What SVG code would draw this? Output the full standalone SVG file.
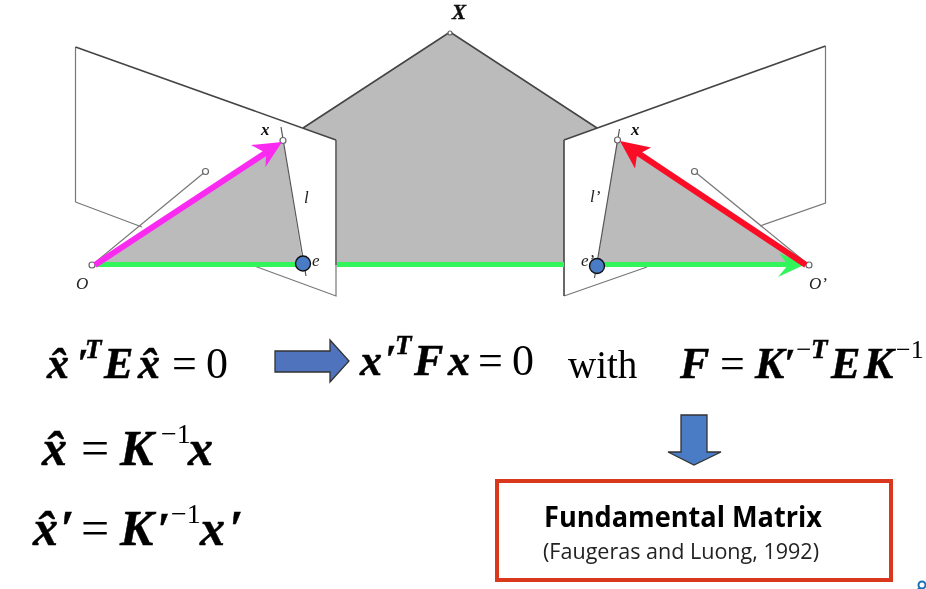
<svg xmlns="http://www.w3.org/2000/svg" width="926" height="589" viewBox="0 0 926 589">
<defs>
<style>
.math{font-family:"Liberation Serif","Times New Roman",serif;font-weight:bold;font-style:italic;font-size:44px;fill:#000;stroke:#000;stroke-width:.5}
.big{font-size:50px}
.up{font-family:"Liberation Serif","Times New Roman",serif;font-size:44px;fill:#000}
.ub{font-size:50px}
.sup{font-size:27px}
.lab{font-family:"Liberation Serif",serif;font-style:italic;font-size:17px;fill:#222}
.bl{font-family:"Liberation Serif",serif;font-style:italic;font-weight:bold;fill:#111}
.plane{fill:#fff;stroke:none}
.thin{fill:none;stroke:#777;stroke-width:1.2}
.dark{fill:none;stroke:#444;stroke-width:1.6}
.gray{fill:#bbb;stroke:none}
.pt{fill:#fff;stroke:#666;stroke-width:1.2}
.ep{fill:#4a7cc4;stroke:#111;stroke-width:1.4}
.blk{fill:#4f73bd;stroke:#333;stroke-width:1.3}
</style>
<filter id="soft" x="0" y="0" width="100%" height="100%"><feGaussianBlur stdDeviation="0.45"/></filter>
</defs>
<rect width="926" height="589" fill="#fff"/>
<g filter="url(#soft)">
<g id="epipolar-plane">
<polygon class="gray" points="303,128 450,32 597,128 564,140 564,265 336,265 336,140"/>
<polyline class="dark" points="303,128 450,32 597,128"/>
<circle class="pt" cx="450" cy="33" r="2"/>
</g>
<g id="left-image-plane">
<polygon class="plane" points="75.5,47 336,140 336,296 75.5,202"/>
<polygon class="gray" points="92,265 283,140 303,264"/>
<path class="thin" d="M75.5,202V47M75.5,202L142,227M253,265.5L336,296V140"/>
<path class="dark" d="M75.5,47L336,140" />
<line x1="336" y1="140" x2="336" y2="265" stroke="#666" stroke-width="1.5"/>
<line class="thin" x1="92" y1="265" x2="205.500" y2="171.500"/>
<line x1="281" y1="127" x2="306" y2="276" stroke="#555" stroke-width="1.2"/>
<circle class="pt" cx="205.500" cy="171.500" r="3"/>
<circle class="pt" cx="283" cy="140.500" r="3"/>
<circle class="pt" cx="92" cy="265" r="3"/>
</g>
<g id="right-image-plane">
<polygon class="plane" points="564,140 825.500,46 825.500,203 564,296"/>
<polygon class="gray" points="617,140 597,265 808,265"/>
<path class="thin" d="M825.500,46V203L760,226M647,267L564,296"/>
<path class="dark" d="M564,140L825.500,46M564,140V296"/>
<line class="thin" x1="809" y1="265" x2="694.500" y2="171.500"/>
<line x1="619.500" y1="129" x2="594.500" y2="278" stroke="#555" stroke-width="1.2"/>
<circle class="pt" cx="694.500" cy="171.500" r="3"/>
<circle class="pt" cx="617.500" cy="140" r="3"/>
<circle class="pt" cx="809" cy="265" r="3"/>
</g>
<g id="connectors">
<g fill="#33f55c">
<rect x="95" y="262" width="208" height="5"/>
<rect x="337" y="262" width="227" height="5"/>
<rect x="597" y="262" width="195" height="5"/>
<polygon points="805,264.500 779,253 788,265 778,277"/>
</g>
<g fill="#fb2cf0">
<line x1="95" y1="265" x2="270" y2="150" stroke="#fb2cf0" stroke-width="6"/>
<polygon points="282,142 251,145 266,153 265.500,167"/>
</g>
<g fill="#fb0a28">
<line x1="806" y1="265" x2="632" y2="149" stroke="#fb0a28" stroke-width="6"/>
<polygon points="620,141 651,147.500 637,155 635,168.500"/>
</g>
</g>
<g id="epipole-e"><circle class="ep" cx="303" cy="263.500" r="7.500"/><text class="lab" x="312" y="266">e</text></g>
<g id="epipole-e-prime"><circle class="ep" cx="597" cy="266" r="7.500"/><text class="lab" x="581" y="266">e’</text></g>
<g id="labels">
<text class="bl" x="452" y="19" font-size="21" stroke="#111" stroke-width=".4">X</text>
<text class="bl" x="261" y="135" font-size="17">x</text>
<text class="bl" x="631" y="135" font-size="17">x</text>
<text class="lab" x="304" y="203">l</text>
<text class="lab" x="590" y="202">l’</text>
<text class="lab" x="76" y="289">O</text>
<text class="lab" x="809" y="289">O’</text>
</g>
<g id="equations">
<text class="math" y="378"><tspan x="47">x̂</tspan><tspan x="77" y="376" font-size="40">′</tspan><tspan x="85" y="358" class="sup">T</tspan><tspan x="104" y="378">E</tspan><tspan x="138">x̂</tspan></text>
<text class="up" y="378"><tspan x="172">=</tspan><tspan x="206">0</tspan></text>
<text class="math big" y="465"><tspan x="42">x̂</tspan><tspan x="120">K</tspan><tspan x="188">x</tspan></text>
<text class="up ub" y="465"><tspan x="81">=</tspan></text>
<text class="up" y="443" x="161" style="font-size:28px">−1</text>
<text class="math big" y="545"><tspan x="33">x̂</tspan><tspan x="60">′</tspan><tspan x="120">K</tspan><tspan x="157" style="font-size:46px">′</tspan><tspan x="200">x</tspan><tspan x="229">′</tspan></text>
<text class="up ub" y="545"><tspan x="81">=</tspan></text>
<text class="up" y="523" x="171" style="font-size:28px">−1</text>
<text class="math" y="375"><tspan x="360">x</tspan><tspan x="385" y="372" font-size="40">′</tspan><tspan x="395" y="354" class="sup">T</tspan><tspan x="414" y="375">F</tspan><tspan x="448">x</tspan></text>
<text class="up" y="375"><tspan x="478">=</tspan><tspan x="512">0</tspan></text>
<text class="up" x="568" y="378" style="font-size:39px">with</text>
<text class="math" y="378"><tspan x="680">F</tspan><tspan x="755">K</tspan><tspan x="784" y="376" font-size="40">′</tspan><tspan x="811" y="358" class="sup">T</tspan><tspan x="831" y="378">E</tspan><tspan x="864">K</tspan></text>
<text class="up" y="378"><tspan x="720">=</tspan></text>
<text class="up sup" y="358" x="796">−</text>
<text class="up sup" y="358" x="896" style="font-size:26px">−1</text>
</g>
<g id="arrow-right"><polygon class="blk" points="275,351 330,351 330,340 349,361 330,382 330,372 275,372"/></g>
<g id="arrow-down"><polygon class="blk" points="681,415 707,415 707,452 721,452 694,465 668,452 681,452" style="fill:#4a7cc4"/></g>
<g id="fundamental-matrix">
<rect x="497" y="481" width="394" height="99" fill="#fff" stroke="#d9391e" stroke-width="4"/>
<text x="544" y="527" font-family="Open Sans,Noto Sans,sans-serif" font-weight="700" font-size="28" fill="#000" textLength="278" lengthAdjust="spacingAndGlyphs">Fundamental Matrix</text>
<text x="543" y="559" font-family="Open Sans,Noto Sans,sans-serif" font-size="21" fill="#222" textLength="276" lengthAdjust="spacingAndGlyphs">(Faugeras and Luong, 1992)</text>
</g>
<g id="search-icon" fill="none" stroke="#1f6fb5" stroke-width="2"><circle cx="922" cy="585" r="3.500"/><line x1="919.500" y1="588" x2="917.500" y2="590"/></g>
</g>
</svg>
